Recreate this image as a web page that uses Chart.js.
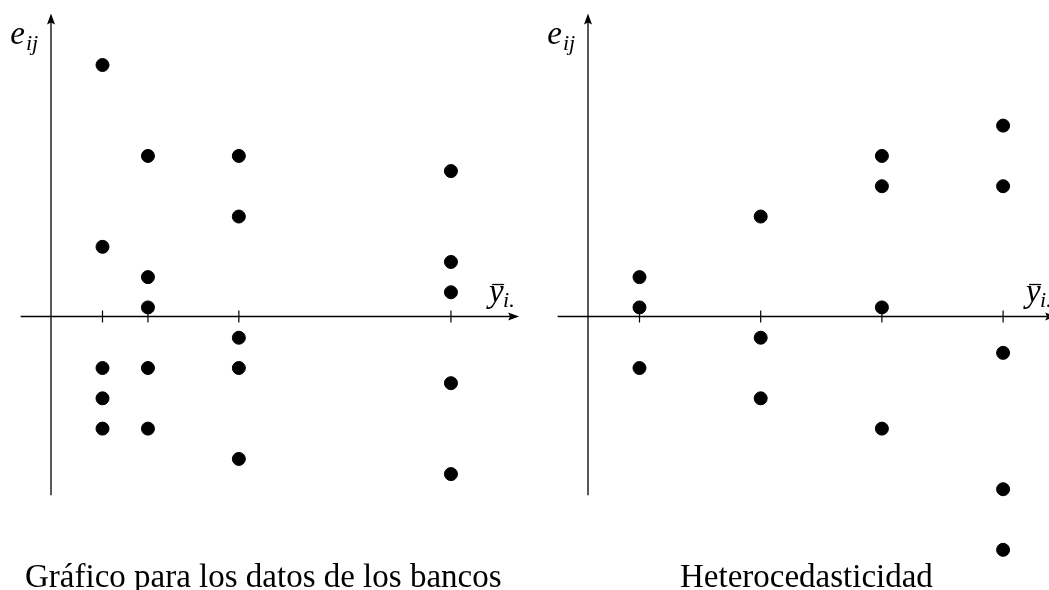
<!DOCTYPE html>
<html>
<head>
<meta charset="utf-8">
<script src="https://cdn.jsdelivr.net/npm/chart.js@4.4.0/dist/chart.umd.min.js"></script>
<style>
  html, body { margin: 0; padding: 0; background: #fff; }
  #wrap { position: relative; width: 1049px; height: 590px; overflow: hidden; }
  canvas { position: absolute; top: 0; }
</style>
</head>
<body>
<div id="wrap">
  <canvas id="left" width="525" height="590" style="left:0"></canvas>
  <canvas id="right" width="525" height="590" style="left:524px"></canvas>
</div>
<script>
// panel izquierdo: datos de los bancos
const leftX = [1.7, 3.2, 6.2, 13.2];
const leftResid = [
    [8.3, 2.3, -1.7, -2.7, -3.7],
    [5.3, 1.3, 0.3, -1.7, -3.7],
    [5.3, 3.3, -0.7, -1.7, -4.7],
    [4.8, 1.8, 0.8, -2.2, -5.2]
];
// panel derecho: heterocedasticidad
const rightX = [1.7, 5.7, 9.7, 13.7];
const rightResid = [
    [1.3, 0.3, -1.7],
    [3.3, -0.7, -2.7],
    [5.3, 4.3, 0.3, -3.7],
    [6.3, 4.3, -1.2, -5.7, -7.7]
];
const leftCaption = 'Gráfico para los datos de los bancos';
const rightCaption = 'Heterocedasticidad';
const axisX = [-1, 15.45];   // extremos del eje horizontal
const axisY = [-5.9, 10];    // extremos del eje vertical

function toPoints(xs, resid) {
    const pts = [];
    xs.forEach((x, i) => resid[i].forEach(v => pts.push({ x: x, y: v })));
    return pts;
}

function arrow(ctx, x, y, dir) {
    // punta rellena, dir: 'up' o 'right'
    ctx.beginPath();
    if (dir === 'up') {
        ctx.moveTo(x, y);
        ctx.lineTo(x - 4, y + 11);
        ctx.lineTo(x, y + 9);
        ctx.lineTo(x + 4, y + 11);
    } else {
        ctx.moveTo(x, y);
        ctx.lineTo(x - 11, y - 4);
        ctx.lineTo(x - 9, y);
        ctx.lineTo(x - 11, y + 4);
    }
    ctx.closePath();
    ctx.fill();
}

const axesPlugin = {
    id: 'axesPlugin',
    beforeDatasetsDraw(chart, args, opts) {
        const ctx = chart.ctx;
        const sx = chart.scales.x, sy = chart.scales.y;
        const x0 = sx.getPixelForValue(0), y0 = sy.getPixelForValue(0);
        const xa = sx.getPixelForValue(axisX[0]), xb = sx.getPixelForValue(axisX[1]);
        const ya = sy.getPixelForValue(axisY[0]), yb = sy.getPixelForValue(axisY[1]);
        ctx.save();
        ctx.strokeStyle = '#000';
        ctx.fillStyle = '#000';
        ctx.lineWidth = 1.3;
        ctx.beginPath();
        ctx.moveTo(xa, y0); ctx.lineTo(xb - 8, y0);
        ctx.moveTo(x0, ya); ctx.lineTo(x0, yb + 8);
        ctx.stroke();
        arrow(ctx, xb, y0, 'right');
        arrow(ctx, x0, yb, 'up');
        // marcas en el eje
        ctx.lineWidth = 1.2;
        ctx.beginPath();
        opts.ticks.forEach(t => {
            const px = sx.getPixelForValue(t);
            ctx.moveTo(px, y0 - 6);
            ctx.lineTo(px, y0 + 6);
        });
        ctx.stroke();

        // etiquetas
        ctx.textBaseline = 'alphabetic';
        ctx.font = 'italic 33px "Liberation Serif", serif';
        ctx.textAlign = 'right';
        ctx.fillText('e', x0 - 26, 44);
        ctx.font = 'italic 22px "Liberation Serif", serif';
        ctx.textAlign = 'left';
        ctx.fillText('ij', x0 - 25, 50);

        const lx = xb - 30;
        ctx.font = 'italic 33px "Liberation Serif", serif';
        ctx.fillText('y', lx, y0 - 15);
        ctx.lineWidth = 1.3;
        ctx.beginPath();
        ctx.moveTo(lx + 3, y0 - 32);
        ctx.lineTo(lx + 15, y0 - 32);
        ctx.stroke();
        ctx.font = 'italic 22px "Liberation Serif", serif';
        ctx.fillText('i.', lx + 14, y0 - 10);

        // pie de figura
        ctx.font = '33px "Liberation Serif", serif';
        ctx.textAlign = 'left';
        ctx.fillText(opts.caption, opts.captionX, 587);
        ctx.restore();
    }
};

function makeChart(id, xs, resid, xMin, xMax, caption, captionX) {
    const ctx = document.getElementById(id).getContext('2d');
    return new Chart(ctx, {
        type: 'scatter',
        data: {
            datasets: [{
                data: toPoints(xs, resid),
                backgroundColor: '#000',
                borderColor: '#000',
                pointRadius: 6.5,
                pointHoverRadius: 6.5
            }]
        },
        options: {
            responsive: false,
            animation: false,
            devicePixelRatio: 1,
            layout: { padding: 0, autoPadding: false },
            scales: {
                x: { type: 'linear', display: false, min: xMin, max: xMax },
                y: { type: 'linear', display: false, min: -9.026, max: 10.446 }
            },
            plugins: {
                legend: { display: false },
                tooltip: { enabled: false },
                axesPlugin: { ticks: xs, caption: caption, captionX: captionX }
            }
        },
        plugins: [axesPlugin]
    });
}

makeChart('left', leftX, leftResid, -1.683, 15.644, leftCaption, 25);
makeChart('right', rightX, rightResid, -2.112, 15.215, rightCaption, 156);
</script>
</body>
</html>
